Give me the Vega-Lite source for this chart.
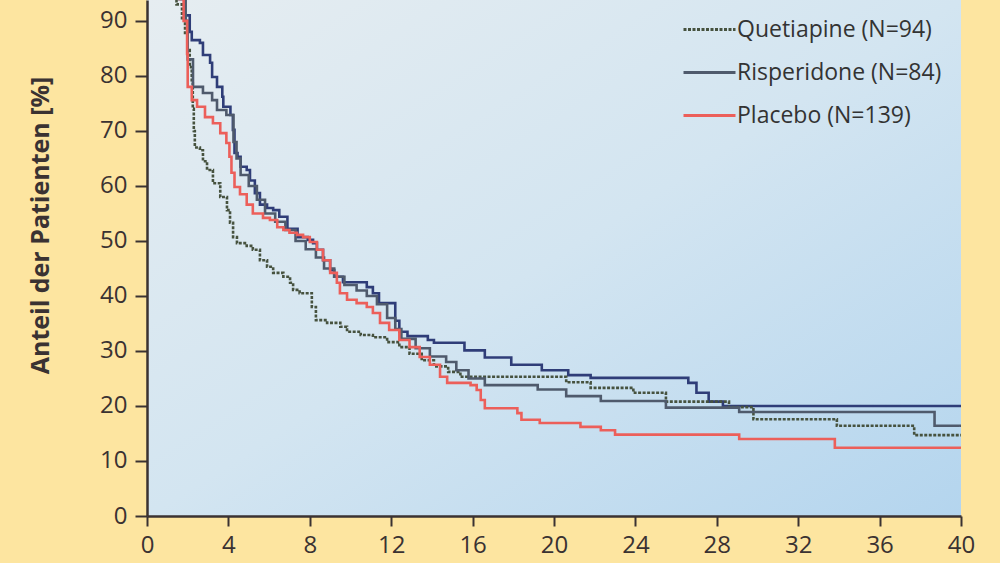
{
  "$schema": "https://vega.github.io/schema/vega-lite/v6.json",
  "width": 814,
  "height": 516,
  "autosize": {"type": "none"},
  "padding": {"left": 147, "top": 0, "right": 39, "bottom": 47},
  "background": "#fde5a0",
  "config": {
    "view": {"stroke": null, "fill": {"gradient": "linear", "x1": 0, "y1": 0, "x2": 1, "y2": 1, "stops": [{"offset": 0, "color": "#e6edf1"}, {"offset": 0.5, "color": "#d3e5f1"}, {"offset": 1, "color": "#b4d5ee"}]}},
    "font": "Open Sans"
  },
  "datasets": {
    "km": [
      {"drug": "Olanzapine (N=100)", "t": 0, "p": 100}, {"drug": "Olanzapine (N=100)", "t": 1.2, "p": 97}, {"drug": "Olanzapine (N=100)", "t": 1.55, "p": 94}, {"drug": "Olanzapine (N=100)", "t": 1.85, "p": 91}, {"drug": "Olanzapine (N=100)", "t": 2.1, "p": 88}, {"drug": "Olanzapine (N=100)", "t": 2.2, "p": 86.5}, {"drug": "Olanzapine (N=100)", "t": 2.6, "p": 86}, {"drug": "Olanzapine (N=100)", "t": 2.75, "p": 83.8}, {"drug": "Olanzapine (N=100)", "t": 3.1, "p": 82.4}, {"drug": "Olanzapine (N=100)", "t": 3.2, "p": 79.8}, {"drug": "Olanzapine (N=100)", "t": 3.44, "p": 78}, {"drug": "Olanzapine (N=100)", "t": 3.7, "p": 76.2}, {"drug": "Olanzapine (N=100)", "t": 3.75, "p": 74.4}, {"drug": "Olanzapine (N=100)", "t": 4.1, "p": 72.9}, {"drug": "Olanzapine (N=100)", "t": 4.22, "p": 70.2}, {"drug": "Olanzapine (N=100)", "t": 4.3, "p": 66}, {"drug": "Olanzapine (N=100)", "t": 4.45, "p": 65.3}, {"drug": "Olanzapine (N=100)", "t": 4.6, "p": 63.5}, {"drug": "Olanzapine (N=100)", "t": 4.9, "p": 62.9}, {"drug": "Olanzapine (N=100)", "t": 5.06, "p": 61}, {"drug": "Olanzapine (N=100)", "t": 5.3, "p": 58.7}, {"drug": "Olanzapine (N=100)", "t": 5.55, "p": 56.6}, {"drug": "Olanzapine (N=100)", "t": 5.9, "p": 56}, {"drug": "Olanzapine (N=100)", "t": 6.2, "p": 55.6}, {"drug": "Olanzapine (N=100)", "t": 6.5, "p": 54.4}, {"drug": "Olanzapine (N=100)", "t": 6.9, "p": 52.2}, {"drug": "Olanzapine (N=100)", "t": 7.4, "p": 50.7}, {"drug": "Olanzapine (N=100)", "t": 7.9, "p": 50.2}, {"drug": "Olanzapine (N=100)", "t": 8.16, "p": 49.6}, {"drug": "Olanzapine (N=100)", "t": 8.35, "p": 48.4}, {"drug": "Olanzapine (N=100)", "t": 8.65, "p": 46.5}, {"drug": "Olanzapine (N=100)", "t": 9.0, "p": 44.7}, {"drug": "Olanzapine (N=100)", "t": 9.2, "p": 43.5}, {"drug": "Olanzapine (N=100)", "t": 9.63, "p": 42.5}, {"drug": "Olanzapine (N=100)", "t": 10.8, "p": 41.6}, {"drug": "Olanzapine (N=100)", "t": 11.1, "p": 40.5}, {"drug": "Olanzapine (N=100)", "t": 11.4, "p": 38.7}, {"drug": "Olanzapine (N=100)", "t": 12.2, "p": 35.5}, {"drug": "Olanzapine (N=100)", "t": 12.4, "p": 33.5}, {"drug": "Olanzapine (N=100)", "t": 12.8, "p": 32.7}, {"drug": "Olanzapine (N=100)", "t": 13.8, "p": 32}, {"drug": "Olanzapine (N=100)", "t": 14.1, "p": 31.5}, {"drug": "Olanzapine (N=100)", "t": 15.6, "p": 30.1}, {"drug": "Olanzapine (N=100)", "t": 16.6, "p": 28.8}, {"drug": "Olanzapine (N=100)", "t": 17.9, "p": 27.5}, {"drug": "Olanzapine (N=100)", "t": 19.4, "p": 26.5}, {"drug": "Olanzapine (N=100)", "t": 20.7, "p": 25.6}, {"drug": "Olanzapine (N=100)", "t": 21.8, "p": 25.1}, {"drug": "Olanzapine (N=100)", "t": 26.6, "p": 24.2}, {"drug": "Olanzapine (N=100)", "t": 27.0, "p": 22.4}, {"drug": "Olanzapine (N=100)", "t": 27.6, "p": 20.8}, {"drug": "Olanzapine (N=100)", "t": 28.3, "p": 20.0}, {"drug": "Olanzapine (N=100)", "t": 40, "p": 20.0},

      {"drug": "Quetiapine (N=94)", "t": 0, "p": 100}, {"drug": "Quetiapine (N=94)", "t": 1.0, "p": 97}, {"drug": "Quetiapine (N=94)", "t": 1.45, "p": 93}, {"drug": "Quetiapine (N=94)", "t": 1.72, "p": 90.2}, {"drug": "Quetiapine (N=94)", "t": 1.87, "p": 87.8}, {"drug": "Quetiapine (N=94)", "t": 2.0, "p": 84.7}, {"drug": "Quetiapine (N=94)", "t": 2.1, "p": 81.6}, {"drug": "Quetiapine (N=94)", "t": 2.2, "p": 78.7}, {"drug": "Quetiapine (N=94)", "t": 2.25, "p": 74}, {"drug": "Quetiapine (N=94)", "t": 2.3, "p": 70}, {"drug": "Quetiapine (N=94)", "t": 2.35, "p": 67}, {"drug": "Quetiapine (N=94)", "t": 2.6, "p": 66.5}, {"drug": "Quetiapine (N=94)", "t": 2.75, "p": 64.5}, {"drug": "Quetiapine (N=94)", "t": 2.95, "p": 62.9}, {"drug": "Quetiapine (N=94)", "t": 3.24, "p": 60.5}, {"drug": "Quetiapine (N=94)", "t": 3.6, "p": 58}, {"drug": "Quetiapine (N=94)", "t": 3.93, "p": 55.6}, {"drug": "Quetiapine (N=94)", "t": 4.08, "p": 53.3}, {"drug": "Quetiapine (N=94)", "t": 4.23, "p": 50.7}, {"drug": "Quetiapine (N=94)", "t": 4.42, "p": 49.6}, {"drug": "Quetiapine (N=94)", "t": 4.9, "p": 49.1}, {"drug": "Quetiapine (N=94)", "t": 5.2, "p": 48.4}, {"drug": "Quetiapine (N=94)", "t": 5.55, "p": 46.5}, {"drug": "Quetiapine (N=94)", "t": 5.9, "p": 45.3}, {"drug": "Quetiapine (N=94)", "t": 6.2, "p": 44.2}, {"drug": "Quetiapine (N=94)", "t": 6.7, "p": 43.5}, {"drug": "Quetiapine (N=94)", "t": 7.03, "p": 42.4}, {"drug": "Quetiapine (N=94)", "t": 7.18, "p": 41.1}, {"drug": "Quetiapine (N=94)", "t": 7.5, "p": 40.5}, {"drug": "Quetiapine (N=94)", "t": 8.1, "p": 38}, {"drug": "Quetiapine (N=94)", "t": 8.3, "p": 35.6}, {"drug": "Quetiapine (N=94)", "t": 8.85, "p": 35.1}, {"drug": "Quetiapine (N=94)", "t": 9.5, "p": 34.4}, {"drug": "Quetiapine (N=94)", "t": 9.83, "p": 33.5}, {"drug": "Quetiapine (N=94)", "t": 10.5, "p": 32.9}, {"drug": "Quetiapine (N=94)", "t": 11.1, "p": 32.5}, {"drug": "Quetiapine (N=94)", "t": 11.8, "p": 31.6}, {"drug": "Quetiapine (N=94)", "t": 12.4, "p": 30.7}, {"drug": "Quetiapine (N=94)", "t": 12.9, "p": 29.5}, {"drug": "Quetiapine (N=94)", "t": 13.5, "p": 28.3}, {"drug": "Quetiapine (N=94)", "t": 14.1, "p": 27.2}, {"drug": "Quetiapine (N=94)", "t": 14.8, "p": 26.2}, {"drug": "Quetiapine (N=94)", "t": 15.4, "p": 25.3}, {"drug": "Quetiapine (N=94)", "t": 20.6, "p": 24.3}, {"drug": "Quetiapine (N=94)", "t": 21.8, "p": 23.3}, {"drug": "Quetiapine (N=94)", "t": 23.9, "p": 22.4}, {"drug": "Quetiapine (N=94)", "t": 25.5, "p": 20.8}, {"drug": "Quetiapine (N=94)", "t": 28.6, "p": 19.8}, {"drug": "Quetiapine (N=94)", "t": 29.8, "p": 17.6}, {"drug": "Quetiapine (N=94)", "t": 33.9, "p": 16.4}, {"drug": "Quetiapine (N=94)", "t": 37.7, "p": 14.7}, {"drug": "Quetiapine (N=94)", "t": 40, "p": 14.7},

      {"drug": "Risperidone (N=84)", "t": 0, "p": 100}, {"drug": "Risperidone (N=84)", "t": 1.2, "p": 97}, {"drug": "Risperidone (N=84)", "t": 1.6, "p": 94}, {"drug": "Risperidone (N=84)", "t": 1.9, "p": 90}, {"drug": "Risperidone (N=84)", "t": 2.0, "p": 83}, {"drug": "Risperidone (N=84)", "t": 2.26, "p": 78}, {"drug": "Risperidone (N=84)", "t": 2.75, "p": 76.9}, {"drug": "Risperidone (N=84)", "t": 3.2, "p": 75.6}, {"drug": "Risperidone (N=84)", "t": 3.44, "p": 73.8}, {"drug": "Risperidone (N=84)", "t": 3.9, "p": 72.9}, {"drug": "Risperidone (N=84)", "t": 4.25, "p": 68}, {"drug": "Risperidone (N=84)", "t": 4.4, "p": 65}, {"drug": "Risperidone (N=84)", "t": 4.6, "p": 62}, {"drug": "Risperidone (N=84)", "t": 5.0, "p": 60}, {"drug": "Risperidone (N=84)", "t": 5.4, "p": 57.5}, {"drug": "Risperidone (N=84)", "t": 5.8, "p": 55}, {"drug": "Risperidone (N=84)", "t": 6.3, "p": 53.5}, {"drug": "Risperidone (N=84)", "t": 6.8, "p": 52}, {"drug": "Risperidone (N=84)", "t": 7.3, "p": 50}, {"drug": "Risperidone (N=84)", "t": 7.8, "p": 48.5}, {"drug": "Risperidone (N=84)", "t": 8.3, "p": 47}, {"drug": "Risperidone (N=84)", "t": 8.7, "p": 45}, {"drug": "Risperidone (N=84)", "t": 9.2, "p": 43.5}, {"drug": "Risperidone (N=84)", "t": 9.7, "p": 42}, {"drug": "Risperidone (N=84)", "t": 10.3, "p": 41}, {"drug": "Risperidone (N=84)", "t": 10.8, "p": 40}, {"drug": "Risperidone (N=84)", "t": 11.3, "p": 38.5}, {"drug": "Risperidone (N=84)", "t": 11.8, "p": 36}, {"drug": "Risperidone (N=84)", "t": 12.2, "p": 34}, {"drug": "Risperidone (N=84)", "t": 12.5, "p": 32.2}, {"drug": "Risperidone (N=84)", "t": 13.2, "p": 30.5}, {"drug": "Risperidone (N=84)", "t": 13.9, "p": 29}, {"drug": "Risperidone (N=84)", "t": 14.7, "p": 28}, {"drug": "Risperidone (N=84)", "t": 15.2, "p": 26.5}, {"drug": "Risperidone (N=84)", "t": 15.8, "p": 25}, {"drug": "Risperidone (N=84)", "t": 16.6, "p": 23.8}, {"drug": "Risperidone (N=84)", "t": 19.2, "p": 23}, {"drug": "Risperidone (N=84)", "t": 20.6, "p": 21.8}, {"drug": "Risperidone (N=84)", "t": 22.3, "p": 20.9}, {"drug": "Risperidone (N=84)", "t": 25.5, "p": 19.7}, {"drug": "Risperidone (N=84)", "t": 29.1, "p": 18.9}, {"drug": "Risperidone (N=84)", "t": 38.7, "p": 16.4}, {"drug": "Risperidone (N=84)", "t": 40, "p": 16.4},

      {"drug": "Placebo (N=139)", "t": 0, "p": 100}, {"drug": "Placebo (N=139)", "t": 1.2, "p": 97}, {"drug": "Placebo (N=139)", "t": 1.6, "p": 94}, {"drug": "Placebo (N=139)", "t": 1.8, "p": 90}, {"drug": "Placebo (N=139)", "t": 1.97, "p": 84}, {"drug": "Placebo (N=139)", "t": 2.0, "p": 78}, {"drug": "Placebo (N=139)", "t": 2.2, "p": 75.6}, {"drug": "Placebo (N=139)", "t": 2.46, "p": 74.4}, {"drug": "Placebo (N=139)", "t": 2.85, "p": 72.5}, {"drug": "Placebo (N=139)", "t": 3.24, "p": 71.4}, {"drug": "Placebo (N=139)", "t": 3.6, "p": 69.6}, {"drug": "Placebo (N=139)", "t": 3.9, "p": 67.8}, {"drug": "Placebo (N=139)", "t": 4.05, "p": 65.3}, {"drug": "Placebo (N=139)", "t": 4.15, "p": 62.4}, {"drug": "Placebo (N=139)", "t": 4.3, "p": 59.8}, {"drug": "Placebo (N=139)", "t": 4.57, "p": 58.5}, {"drug": "Placebo (N=139)", "t": 4.9, "p": 56.6}, {"drug": "Placebo (N=139)", "t": 5.2, "p": 55}, {"drug": "Placebo (N=139)", "t": 5.7, "p": 54.2}, {"drug": "Placebo (N=139)", "t": 6.04, "p": 53.8}, {"drug": "Placebo (N=139)", "t": 6.4, "p": 52.5}, {"drug": "Placebo (N=139)", "t": 6.7, "p": 52}, {"drug": "Placebo (N=139)", "t": 7.0, "p": 51.5}, {"drug": "Placebo (N=139)", "t": 7.37, "p": 51.1}, {"drug": "Placebo (N=139)", "t": 7.67, "p": 50.7}, {"drug": "Placebo (N=139)", "t": 8.0, "p": 49.8}, {"drug": "Placebo (N=139)", "t": 8.35, "p": 48.4}, {"drug": "Placebo (N=139)", "t": 8.65, "p": 46.5}, {"drug": "Placebo (N=139)", "t": 9.0, "p": 44.2}, {"drug": "Placebo (N=139)", "t": 9.33, "p": 42.4}, {"drug": "Placebo (N=139)", "t": 9.48, "p": 40.5}, {"drug": "Placebo (N=139)", "t": 9.83, "p": 39.3}, {"drug": "Placebo (N=139)", "t": 10.3, "p": 38.7}, {"drug": "Placebo (N=139)", "t": 10.8, "p": 38}, {"drug": "Placebo (N=139)", "t": 11.1, "p": 36.9}, {"drug": "Placebo (N=139)", "t": 11.45, "p": 35.1}, {"drug": "Placebo (N=139)", "t": 11.9, "p": 33.8}, {"drug": "Placebo (N=139)", "t": 12.4, "p": 32}, {"drug": "Placebo (N=139)", "t": 12.9, "p": 30.7}, {"drug": "Placebo (N=139)", "t": 13.4, "p": 28.9}, {"drug": "Placebo (N=139)", "t": 13.9, "p": 27.5}, {"drug": "Placebo (N=139)", "t": 14.4, "p": 25.3}, {"drug": "Placebo (N=139)", "t": 14.75, "p": 24.2}, {"drug": "Placebo (N=139)", "t": 15.9, "p": 23.8}, {"drug": "Placebo (N=139)", "t": 16.2, "p": 22.9}, {"drug": "Placebo (N=139)", "t": 16.4, "p": 21.1}, {"drug": "Placebo (N=139)", "t": 16.6, "p": 19.6}, {"drug": "Placebo (N=139)", "t": 18.2, "p": 18.7}, {"drug": "Placebo (N=139)", "t": 18.4, "p": 17.5}, {"drug": "Placebo (N=139)", "t": 19.3, "p": 16.9}, {"drug": "Placebo (N=139)", "t": 21.3, "p": 16.2}, {"drug": "Placebo (N=139)", "t": 22.3, "p": 15.6}, {"drug": "Placebo (N=139)", "t": 23.0, "p": 14.8}, {"drug": "Placebo (N=139)", "t": 29.1, "p": 14.0}, {"drug": "Placebo (N=139)", "t": 33.8, "p": 12.4}, {"drug": "Placebo (N=139)", "t": 40, "p": 12.4}
    ]
  },
  "data": {"name": "km"},
  "mark": {"type": "line", "interpolate": "step-after", "strokeWidth": 2.6, "clip": true},
  "encoding": {
    "x": {
      "field": "t", "type": "quantitative",
      "scale": {"domain": [0, 40], "nice": false, "zero": false},
      "axis": {"title": null, "values": [0, 4, 8, 12, 16, 20, 24, 28, 32, 36, 40], "grid": false, "labelFontSize": 24, "labelColor": "#3a3232", "labelFont": "Open Sans", "tickSize": 10, "tickWidth": 2, "tickColor": "#3a3232", "domainColor": "#3a3232", "domainWidth": 2.5, "labelPadding": 7, "labelFlush": false, "labelOverlap": false}
    },
    "y": {
      "field": "p", "type": "quantitative",
      "scale": {"domain": [0, 93.8], "nice": false, "zero": true},
      "axis": {"title": "Anteil der Patienten [%]", "values": [0, 10, 20, 30, 40, 50, 60, 70, 80, 90], "grid": false, "labelFontSize": 24, "labelColor": "#3a3232", "labelFont": "Open Sans", "tickSize": 12, "tickWidth": 2, "tickColor": "#3a3232", "domainColor": "#3a3232", "domainWidth": 2.5, "labelPadding": 8, "labelOverlap": false, "titleFont": "Open Sans", "titleFontSize": 25, "titleFontWeight": "bold", "titleColor": "#3a3232", "titleX": -99, "titleY": 225, "titleAngle": -90, "titleAlign": "center", "titleBaseline": "alphabetic"}
    },
    "color": {
      "field": "drug", "type": "nominal",
      "scale": {"domain": ["Olanzapine (N=100)", "Quetiapine (N=94)", "Risperidone (N=84)", "Placebo (N=139)"], "range": ["#2f3d78", "#46523f", "#4f5a6c", "#ec5f5a"]},
      "legend": {"orient": "none", "legendX": 535, "legendY": -41, "title": null, "symbolType": "stroke", "symbolSize": 2704, "symbolStrokeWidth": 3, "labelFontSize": 23, "labelFont": "Open Sans", "labelColor": "#333333", "labelOffset": 0, "labelLimit": 0, "rowPadding": 3, "padding": 0}
    },
    "strokeDash": {
      "field": "drug", "type": "nominal",
      "scale": {"domain": ["Olanzapine (N=100)", "Quetiapine (N=94)", "Risperidone (N=84)", "Placebo (N=139)"], "range": [[1, 0], [3, 1.5], [1, 0], [1, 0]]},
      "legend": {"orient": "none", "legendX": 535, "legendY": -41, "title": null, "symbolType": "stroke", "symbolSize": 2704, "symbolStrokeWidth": 3, "labelFontSize": 23, "labelFont": "Open Sans", "labelColor": "#333333", "labelOffset": 0, "labelLimit": 0, "rowPadding": 3, "padding": 0}
    }
  }
}
